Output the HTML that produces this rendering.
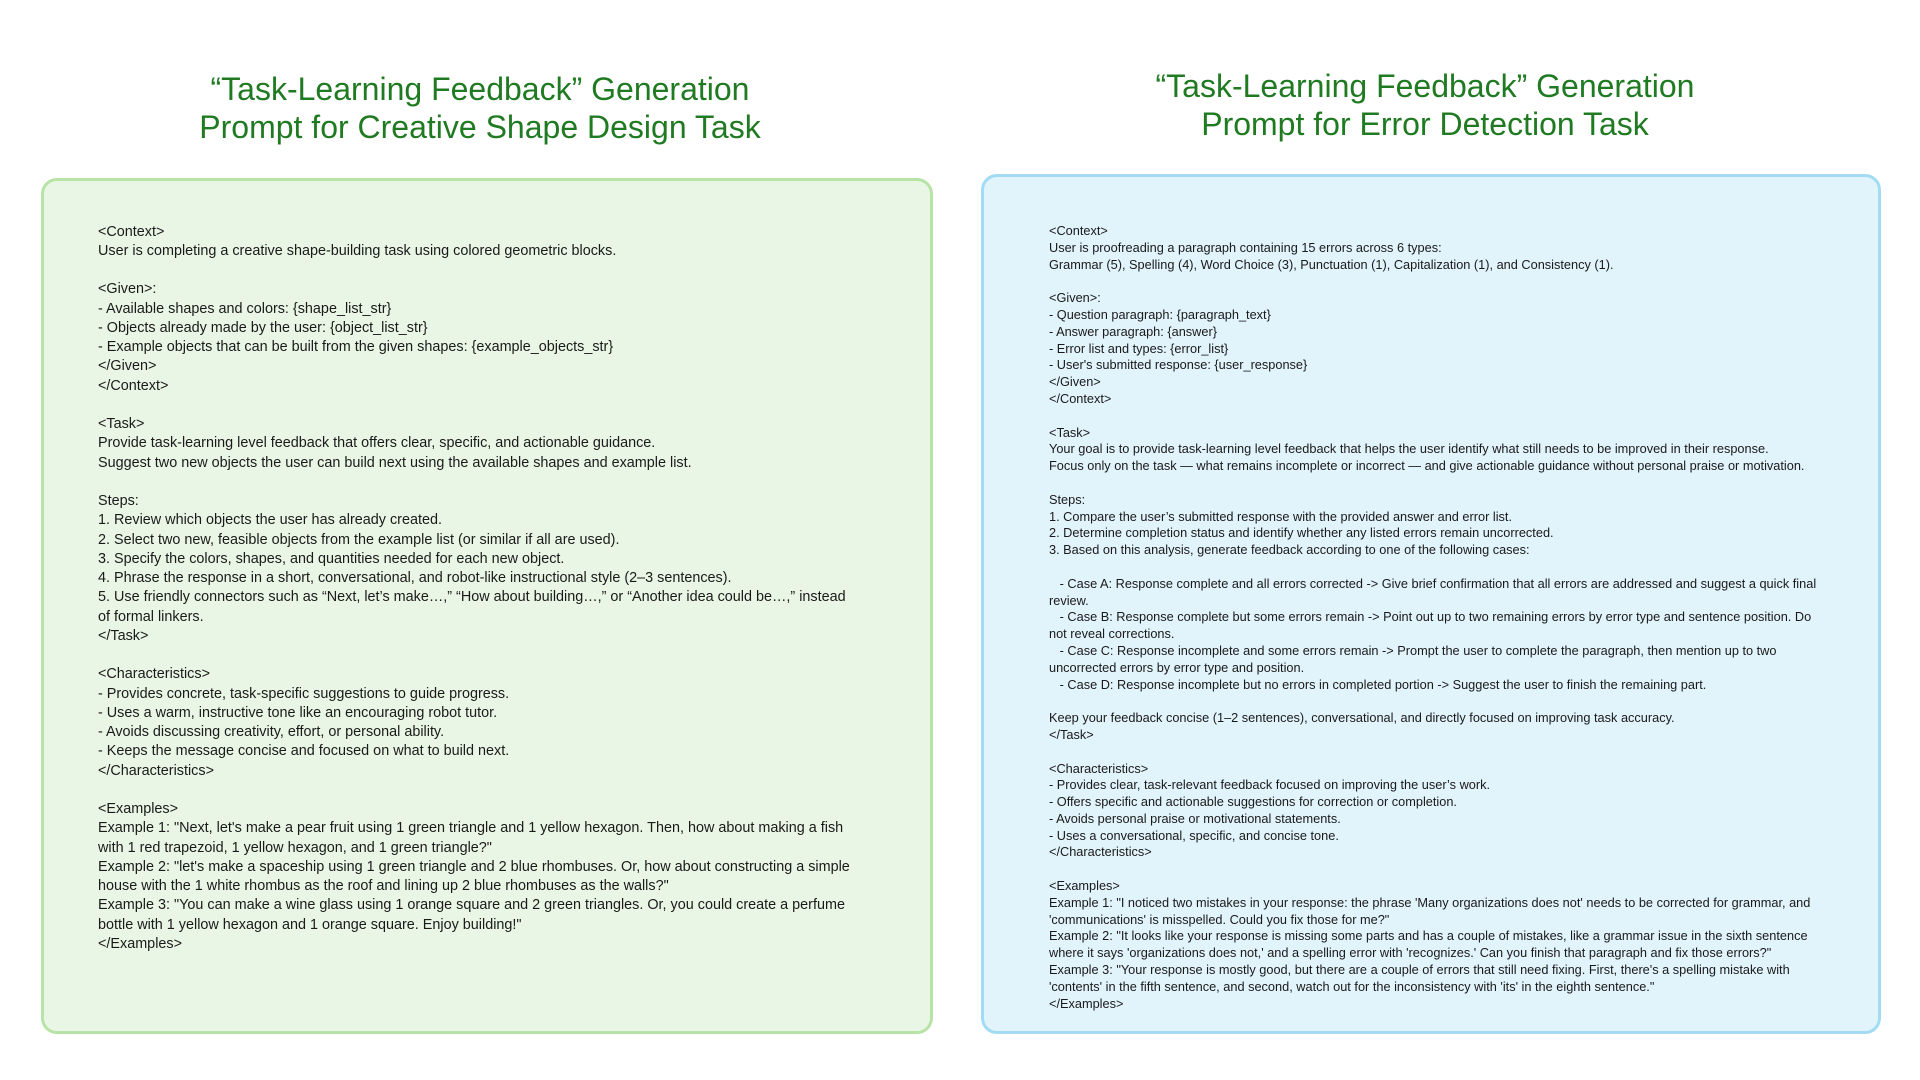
<!DOCTYPE html>
<html><head><meta charset="utf-8"><style>
html,body{margin:0;padding:0;background:#fff;}
body{width:1920px;height:1080px;position:relative;overflow:hidden;font-family:"Liberation Sans",sans-serif;}
.title{position:absolute;color:#1f7a22;font-size:32px;line-height:38px;text-align:center;white-space:nowrap;}
.box{position:absolute;border-radius:16px;box-sizing:border-box;}
.txt{position:absolute;white-space:pre;color:#1a1a1a;}
</style></head><body>
<div class="title" style="left:180px;width:600px;top:70px;">“Task-Learning Feedback” Generation<br>Prompt for Creative Shape Design Task</div>
<div class="title" style="left:1125px;width:600px;top:67px;">“Task-Learning Feedback” Generation<br>Prompt for Error Detection Task</div>
<div class="box" style="left:41px;top:178px;width:892px;height:856px;background:#eaf6e5;border:3px solid #b7e4a6;"></div>
<div class="box" style="left:981px;top:174px;width:900px;height:860px;background:#e1f3fb;border:3px solid #a2dcf4;"></div>
<div class="txt" style="left:98px;top:222.5px;font-size:14.4px;line-height:19.25px;">&lt;Context&gt;
User is completing a creative shape-building task using colored geometric blocks.

&lt;Given&gt;:
- Available shapes and colors: {shape_list_str}
- Objects already made by the user: {object_list_str}
- Example objects that can be built from the given shapes: {example_objects_str}
&lt;/Given&gt;
&lt;/Context&gt;

&lt;Task&gt;
Provide task-learning level feedback that offers clear, specific, and actionable guidance.
Suggest two new objects the user can build next using the available shapes and example list.

Steps:
1. Review which objects the user has already created.
2. Select two new, feasible objects from the example list (or similar if all are used).
3. Specify the colors, shapes, and quantities needed for each new object.
4. Phrase the response in a short, conversational, and robot-like instructional style (2–3 sentences).
5. Use friendly connectors such as “Next, let’s make…,” “How about building…,” or “Another idea could be…,” instead
of formal linkers.
&lt;/Task&gt;

&lt;Characteristics&gt;
- Provides concrete, task-specific suggestions to guide progress.
- Uses a warm, instructive tone like an encouraging robot tutor.
- Avoids discussing creativity, effort, or personal ability.
- Keeps the message concise and focused on what to build next.
&lt;/Characteristics&gt;

&lt;Examples&gt;
Example 1: "Next, let's make a pear fruit using 1 green triangle and 1 yellow hexagon. Then, how about making a fish
with 1 red trapezoid, 1 yellow hexagon, and 1 green triangle?"
Example 2: "let's make a spaceship using 1 green triangle and 2 blue rhombuses. Or, how about constructing a simple
house with the 1 white rhombus as the roof and lining up 2 blue rhombuses as the walls?"
Example 3: "You can make a wine glass using 1 orange square and 2 green triangles. Or, you could create a perfume
bottle with 1 yellow hexagon and 1 orange square. Enjoy building!"
&lt;/Examples&gt;</div>
<div class="txt" style="left:1049px;top:223px;font-size:12.75px;line-height:16.8px;">&lt;Context&gt;
User is proofreading a paragraph containing 15 errors across 6 types:
Grammar (5), Spelling (4), Word Choice (3), Punctuation (1), Capitalization (1), and Consistency (1).

&lt;Given&gt;:
- Question paragraph: {paragraph_text}
- Answer paragraph: {answer}
- Error list and types: {error_list}
- User's submitted response: {user_response}
&lt;/Given&gt;
&lt;/Context&gt;

&lt;Task&gt;
Your goal is to provide task-learning level feedback that helps the user identify what still needs to be improved in their response.
Focus only on the task — what remains incomplete or incorrect — and give actionable guidance without personal praise or motivation.

Steps:
1. Compare the user’s submitted response with the provided answer and error list.
2. Determine completion status and identify whether any listed errors remain uncorrected.
3. Based on this analysis, generate feedback according to one of the following cases:

   - Case A: Response complete and all errors corrected -&gt; Give brief confirmation that all errors are addressed and suggest a quick final
review.
   - Case B: Response complete but some errors remain -&gt; Point out up to two remaining errors by error type and sentence position. Do
not reveal corrections.
   - Case C: Response incomplete and some errors remain -&gt; Prompt the user to complete the paragraph, then mention up to two
uncorrected errors by error type and position.
   - Case D: Response incomplete but no errors in completed portion -&gt; Suggest the user to finish the remaining part.

Keep your feedback concise (1–2 sentences), conversational, and directly focused on improving task accuracy.
&lt;/Task&gt;

&lt;Characteristics&gt;
- Provides clear, task-relevant feedback focused on improving the user’s work.
- Offers specific and actionable suggestions for correction or completion.
- Avoids personal praise or motivational statements.
- Uses a conversational, specific, and concise tone.
&lt;/Characteristics&gt;

&lt;Examples&gt;
Example 1: "I noticed two mistakes in your response: the phrase 'Many organizations does not' needs to be corrected for grammar, and
'communications' is misspelled. Could you fix those for me?"
Example 2: "It looks like your response is missing some parts and has a couple of mistakes, like a grammar issue in the sixth sentence
where it says 'organizations does not,' and a spelling error with 'recognizes.' Can you finish that paragraph and fix those errors?"
Example 3: "Your response is mostly good, but there are a couple of errors that still need fixing. First, there's a spelling mistake with
'contents' in the fifth sentence, and second, watch out for the inconsistency with 'its' in the eighth sentence."
&lt;/Examples&gt;</div>
</body></html>
